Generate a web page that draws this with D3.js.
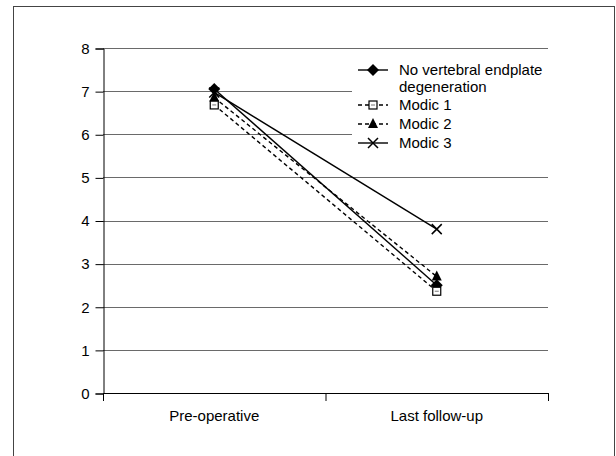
<!DOCTYPE html>
<html>
<head>
<script src="https://cdnjs.cloudflare.com/ajax/libs/d3/7.8.5/d3.min.js"></script>
<style>
body { margin: 0; background: #fff; }
svg { font-family: "Liberation Sans", Arial, sans-serif; }
</style>
</head>
<body>
<svg id="chart" width="616" height="456"></svg>
<script>
  var categories = ["Pre-operative", "Last follow-up"];
  var seriesNames = ["No vertebral endplate degeneration", "Modic 1", "Modic 2", "Modic 3"];
  var noDegeneration = [7.05, 2.5];
  var modic1 = [6.68, 2.36];
  var modic2 = [6.85, 2.7];
  var modic3 = [6.97, 3.8];
  var yTicks = [0, 1, 2, 3, 4, 5, 6, 7, 8];

  var series = [
    { name: seriesNames[0], values: noDegeneration, dash: null, marker: "diamond" },
    { name: seriesNames[1], values: modic1, dash: "4,3", marker: "square" },
    { name: seriesNames[2], values: modic2, dash: "4,3", marker: "triangle" },
    { name: seriesNames[3], values: modic3, dash: null, marker: "cross" }
  ];

  var svg = d3.select("#chart");

  // outer frame (bottom runs off the page)
  svg.append("rect")
    .attr("x", 13.5).attr("y", 6.5)
    .attr("width", 601).attr("height", 460)
    .attr("fill", "none").attr("stroke", "#444").attr("stroke-width", 1);

  var mLeft = 103, mRight = 548, mTop = 48, mBottom = 393;

  var x = d3.scalePoint().domain(categories).range([mLeft, mRight]).padding(0.5);
  var xBand = d3.scaleBand().domain(categories).range([mLeft, mRight]);
  var y = d3.scaleLinear().domain([0, 8]).range([mBottom, mTop]);

  // gridlines
  svg.append("g").selectAll("line")
    .data(yTicks.filter(function (d) { return d > 0; }))
    .join("line")
    .attr("x1", mLeft).attr("x2", mRight)
    .attr("y1", function (d) { return Math.round(y(d)) + 0.5; })
    .attr("y2", function (d) { return Math.round(y(d)) + 0.5; })
    .attr("stroke", "#6a6a6a").attr("stroke-width", 1.2);

  // y axis
  var yAxis = svg.append("g")
    .attr("transform", "translate(" + (mLeft + 0.5) + ",0.5)")
    .call(d3.axisLeft(y).tickValues(yTicks).tickSize(8).tickPadding(6).tickFormat(d3.format("d")));
  yAxis.select(".domain").attr("stroke", "#000");
  yAxis.selectAll(".tick line").attr("stroke", "#000");
  yAxis.selectAll("text").attr("font-size", 15).attr("fill", "#000");

  // x axis
  var xAxis = svg.append("g")
    .attr("transform", "translate(0," + (mBottom + 0.5) + ")")
    .call(d3.axisBottom(xBand).tickSize(0).tickPadding(17));
  xAxis.select(".domain").attr("stroke", "#000").attr("d", "M" + mLeft + ",0H" + mRight);
  xAxis.selectAll("text").attr("font-size", 15).attr("fill", "#000");
  svg.append("g").selectAll("line")
    .data([mLeft, xBand(categories[1]), mRight])
    .join("line")
    .attr("x1", function (d) { return d + 0.5; }).attr("x2", function (d) { return d + 0.5; })
    .attr("y1", mBottom).attr("y2", mBottom + 8)
    .attr("stroke", "#000");

  function drawMarker(g, type, cx, cy) {
    var t = "translate(" + cx + "," + cy + ")";
    if (type === "diamond") {
      g.append("path").attr("d", "M0,-6L6,0L0,6L-6,0Z")
        .attr("transform", t).attr("fill", "#000");
    } else if (type === "square") {
      g.append("rect").attr("x", cx - 4).attr("y", cy - 4).attr("width", 8).attr("height", 8)
        .attr("fill", "#fff").attr("stroke", "#000").attr("stroke-width", 1.2);
      g.append("line").attr("x1", cx - 2).attr("x2", cx + 2).attr("y1", cy).attr("y2", cy)
        .attr("stroke", "#777");
    } else if (type === "triangle") {
      g.append("path").attr("d", "M0,-6L5,4L-5,4Z")
        .attr("transform", t).attr("fill", "#000");
    } else {
      g.append("path").attr("d", "M-5,-5L5,5M-5,5L5,-5")
        .attr("transform", t)
        .attr("stroke", "#000").attr("stroke-width", 1.5).attr("fill", "none");
    }
  }

  var line = d3.line()
    .x(function (d, i) { return x(categories[i]); })
    .y(function (d) { return y(d); });

  series.forEach(function (s) {
    svg.append("path")
      .attr("d", line(s.values))
      .attr("fill", "none").attr("stroke", "#000").attr("stroke-width", 1.4)
      .attr("stroke-dasharray", s.dash);
  });
  series.forEach(function (s) {
    var g = svg.append("g");
    s.values.forEach(function (v, i) { drawMarker(g, s.marker, x(categories[i]), y(v)); });
  });

  // legend
  var legend = svg.append("g");
  legend.append("rect").attr("x", 352).attr("y", 58).attr("width", 200).attr("height", 96).attr("fill", "#fff");
  var rows = [70, 105, 124, 143];
  var lg = legend.selectAll("g.item").data(series).join("g").attr("class", "item");
  lg.each(function (s, i) {
    var g = d3.select(this);
    g.append("line").attr("x1", 358).attr("x2", 388).attr("y1", rows[i]).attr("y2", rows[i])
      .attr("stroke", "#000").attr("stroke-width", 1.4).attr("stroke-dasharray", s.dash);
    drawMarker(g, s.marker, 373, rows[i]);
  });
  var legendText = [["No vertebral endplate", "degeneration"], ["Modic 1"], ["Modic 2"], ["Modic 3"]];
  legendText.forEach(function (lines, i) {
    lines.forEach(function (t, j) {
      legend.append("text")
        .attr("x", 399).attr("y", rows[i] + j * 17 + 5)
        .attr("font-size", 15).attr("fill", "#000")
        .text(t);
    });
  });
</script>
</body>
</html>
